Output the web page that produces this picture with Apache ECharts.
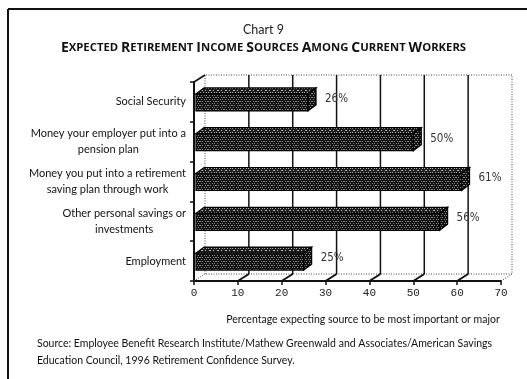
<!DOCTYPE html>
<html><head><meta charset="utf-8">
<script src="https://cdn.jsdelivr.net/npm/echarts@6/dist/echarts.min.js"></script>
<style>html,body{margin:0;padding:0;background:#fff}#c{width:527px;height:379px}</style>
</head><body><div id="c"></div>
<script>
const categories = [
  'Social Security',
  'Money your employer put into a\npension plan',
  'Money you put into a retirement\nsaving plan through work',
  'Other personal savings or\ninvestments',
  'Employment'
];
const values = [26, 50, 61, 56, 25];
const xTicks = [0, 10, 20, 30, 40, 50, 60, 70];
const chartNo = 'Chart 9';
const chartTitle = 'EXPECTED RETIREMENT INCOME SOURCES AMONG CURRENT WORKERS';
const axisTitle = 'Percentage expecting source to be most important or major';
const sourceLines = [
  'Source: Employee Benefit Research Institute/Mathew Greenwald and Associates/American Savings',
  'Education Council, 1996 Retirement Confidence Survey.'
];

// wall depth and bar depth (px)
const DX = 11, DY = -7, BDX = 8, BDY = -6, BH = 17;

function makePattern(bg, dots, dotColor) {
  const c = document.createElement('canvas');
  c.width = 8; c.height = 4;
  const g = c.getContext('2d');
  g.fillStyle = bg; g.fillRect(0, 0, 8, 4);
  g.fillStyle = dotColor;
  dots.forEach(d => g.fillRect(d[0], d[1], 1, 1));
  return { image: c, repeat: 'repeat' };
}
const frontPat = makePattern('#111', [[0,1],[2,1],[5,1],[7,1],[1,3],[4,3],[6,3]], '#8a8a8a');
const topPat = makePattern('#1c1c1c', [[0,0],[3,0],[6,0],[1,2],[2,2],[5,2]], '#b0b0b0');

// small-caps title as rich text
function smallCaps(s) {
  return s.split(' ').map(w => '{b|' + w[0] + '}{s|' + w.slice(1) + '}').join('{s| }');
}

const chart = echarts.init(document.getElementById('c'), null, { renderer: 'canvas' });
const mono = "'Liberation Mono','DejaVu Sans Mono',monospace";
const sans = "Lato,'Open Sans',sans-serif";

chart.setOption({
  animation: false,
  backgroundColor: '#fff',
  title: [
    { text: chartNo, left: 'center', top: 18, textStyle: { fontFamily: sans, fontSize: 12.5, fontWeight: 'normal', color: '#222' } },
    { text: smallCaps(chartTitle), left: 'center', top: 36,
      textStyle: { rich: {
        b: { fontFamily: "'Open Sans',sans-serif", fontWeight: 'bold', fontSize: 14, color: '#111' },
        s: { fontFamily: "'Open Sans',sans-serif", fontWeight: 'bold', fontSize: 11.3, color: '#111' }
      } } }
  ],
  grid: { left: 194, right: 26, top: 82, bottom: 98 },
  xAxis: {
    type: 'value', min: 0, max: 70, interval: 10,
    axisLine: { show: true, lineStyle: { color: '#111', width: 2 } },
    axisTick: { show: true, length: 4, lineStyle: { color: '#111', width: 1.5 } },
    axisLabel: { margin: 7, fontFamily: mono, fontSize: 11, color: '#222',
      formatter: v => xTicks.indexOf(v) >= 0 ? String(v) : '' },
    splitLine: { show: false }
  },
  yAxis: {
    type: 'category', data: categories, inverse: true,
    axisLine: { show: true, lineStyle: { color: '#111', width: 2 } },
    axisTick: { show: true, length: 4, lineStyle: { color: '#111', width: 1.5 } },
    axisLabel: { margin: 8, color: '#111',
      formatter: v => v.split('\n').map(l => '{c|' + l + '}').join('\n'),
      rich: { c: { align: 'center', fontFamily: sans, fontSize: 11, color: '#111', lineHeight: 16 } } }
  },
  graphic: [
    { type: 'line', shape: { x1: 8, y1: 9, x2: 527, y2: 9 }, style: { stroke: '#111', lineWidth: 2 } },
    { type: 'line', shape: { x1: 8, y1: 9, x2: 8, y2: 379 }, style: { stroke: '#111', lineWidth: 2 } },
    { type: 'text', x: 363, y: 320, style: { text: axisTitle, fontFamily: sans, fontSize: 10.5, fill: '#111', textAlign: 'center', textVerticalAlign: 'middle' } },
    { type: 'text', x: 37, y: 344, style: { text: sourceLines[0], fontFamily: sans, fontSize: 10.5, fill: '#111', textVerticalAlign: 'middle', letterSpacing: -0.15 } },
    { type: 'text', x: 37, y: 361, style: { text: sourceLines[1], fontFamily: sans, fontSize: 10.5, fill: '#111', textVerticalAlign: 'middle', letterSpacing: -0.15 } }
  ],
  series: [
    {
      type: 'custom', z: 1, silent: true, data: [[0, 0]],
      renderItem: function (params, api) {
        const cs = params.coordSys;
        const top = cs.y, bot = cs.y + cs.height;
        const kids = [];
        const dot = { stroke: '#444', lineWidth: 1, lineDash: [1, 1.5], fill: null };
        const solid = { stroke: '#111', lineWidth: 1.5, fill: null };
        const xL = api.coord([xTicks[0], 0])[0];
        const xR = api.coord([xTicks[xTicks.length - 1], 0])[0];
        kids.push({ type: 'polyline', shape: { points: [[xL + DX, bot + DY], [xL + DX, top + DY], [xR + DX, top + DY], [xR + DX, bot + DY], [xL + DX, bot + DY]] }, style: dot });
        kids.push({ type: 'line', shape: { x1: xR, y1: bot, x2: xR + DX, y2: bot + DY }, style: dot });
        kids.push({ type: 'line', shape: { x1: xL, y1: bot, x2: xL + DX, y2: bot + DY }, style: dot });
        kids.push({ type: 'line', shape: { x1: xL, y1: top, x2: xL + DX, y2: top + DY }, style: solid });
        xTicks.slice(1, -1).forEach(t => {
          const x = api.coord([t, 0])[0];
          kids.push({ type: 'line', shape: { x1: x + DX, y1: top + DY, x2: x + DX, y2: bot + DY }, style: solid });
          kids.push({ type: 'line', shape: { x1: x, y1: bot, x2: x + DX, y2: bot + DY }, style: { stroke: '#111', lineWidth: 2 } });
        });
        return { type: 'group', children: kids };
      }
    },
    {
      type: 'custom', z: 3, silent: true,
      data: values.map((v, i) => [v, i]),
      encode: { x: 0, y: 1 },
      renderItem: function (params, api) {
        const v = api.value(0), i = api.value(1);
        const p0 = api.coord([0, i]);
        const p1 = api.coord([v, i]);
        const xl = p0[0] + 2, xr = p1[0];
        const yT = p1[1] - BH / 2 + 0.5, yB = yT + BH;
        const edge = { stroke: '#000', lineWidth: 1.2 };
        return { type: 'group', children: [
          { type: 'polygon', shape: { points: [[xl, yT], [xr, yT], [xr + BDX, yT + BDY], [xl + BDX, yT + BDY]] }, style: Object.assign({ fill: topPat }, edge) },
          { type: 'polygon', shape: { points: [[xr, yT], [xr + BDX, yT + BDY], [xr + BDX, yB + BDY], [xr, yB]] }, style: Object.assign({ fill: frontPat }, edge) },
          { type: 'rect', shape: { x: xl, y: yT, width: xr - xl, height: BH }, style: Object.assign({ fill: frontPat }, edge) },
          { type: 'text', x: xr + BDX + 9, y: p1[1] + BDY / 2, style: { text: v + '%', fontFamily: "'Liberation Sans Narrow','DejaVu Sans Condensed',sans-serif", fontSize: 11.5, fill: '#333', textVerticalAlign: 'middle' } }
        ] };
      }
    }
  ]
});
</script></body></html>
